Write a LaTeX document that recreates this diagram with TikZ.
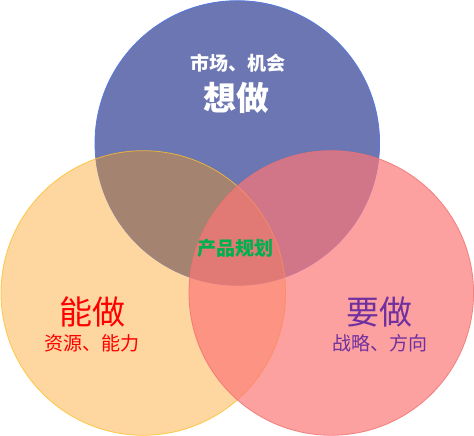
\documentclass[tikz,border=0pt]{standalone}
\usepackage{fontspec}
\newfontfamily\cjk{Noto Sans CJK SC}
\usetikzlibrary{positioning}
\definecolor{wantfill}{RGB}{108,118,178}
\definecolor{wantline}{RGB}{86,122,222}
\definecolor{canfill}{RGB}{252,152,17}
\definecolor{canline}{RGB}{255,192,40}
\definecolor{mustfill}{RGB}{251,119,119}
\definecolor{mustline}{RGB}{240,112,112}
\definecolor{plangreen}{RGB}{0,176,80}
\definecolor{mustpurple}{RGB}{112,48,160}

\begin{document}
\begin{tikzpicture}[
    x=1pt, y=1pt,
    ring/.style={circle, minimum size=284.6pt, inner sep=0pt, line width=0.8pt},
    title/.style={font=\cjk\fontsize{33}{33}\selectfont, inner sep=0pt},
    note/.style={font=\cjk\fontsize{19}{19}\selectfont, inner sep=0pt}
]
\useasboundingbox (0,0) rectangle (474,436);

% three circles
\node[ring, draw=wantline, fill=wantfill] (want) at (237.3,293) {};
\node[ring, draw=canline, draw opacity=0.8, fill=canfill, fill opacity=0.4] (can) at (143.3,143) {};
\node[ring, draw=mustline, draw opacity=0.8, fill=mustfill, fill opacity=0.7] (must) at (331.3,143) {};

% labels
\node[note, text=white, font=\cjk\bfseries\fontsize{19}{19}\selectfont] (market) at (237.5,373) {市场、机会};
\node[title, text=white, font=\cjk\bfseries\fontsize{33}{33}\selectfont] (wanttext) at (236.5,338.5) {想做};

\node[note, text=plangreen, font=\cjk\bfseries\fontsize{19}{19}\selectfont] (plan) at (235,187.5) {产品规划};

\node[title, text=red] (cantext) at (92.5,124) {能做};
\node[note, text=red] (resource) at (92,92.5) {资源、能力};

\node[title, text=mustpurple] (musttext) at (379,124) {要做};
\node[note, text=mustpurple] (strategy) at (379.5,92.5) {战略、方向};

\end{tikzpicture}
\end{document}
